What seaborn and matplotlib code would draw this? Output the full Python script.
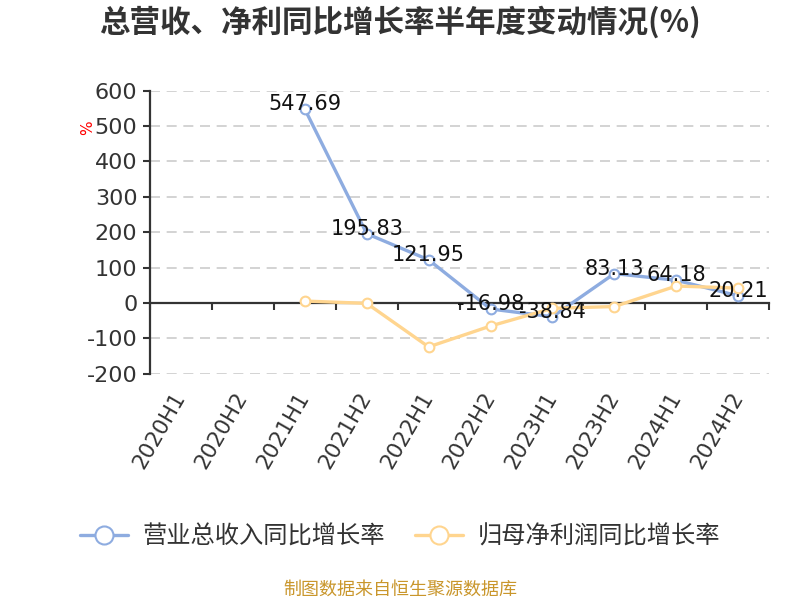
import numpy as np
import pandas as pd
import matplotlib
matplotlib.use("Agg")
import matplotlib.pyplot as plt
import matplotlib.transforms as mtransforms
import seaborn as sns

periods = ["2020H1", "2020H2", "2021H1", "2021H2", "2022H1",
           "2022H2", "2023H1", "2023H2", "2024H1", "2024H2"]
revenue_growth = [np.nan, np.nan, 547.69, 195.83, 121.95, -16.98, -38.84, 83.13, 64.18, 20.21]
profit_growth = [np.nan, np.nan, 5.5, -1.0, -124.0, -65.0, -15.0, -10.0, 48.0, 42.0]
series_names = ["营业总收入同比增长率", "归母净利润同比增长率"]
colors = ["#8eace0", "#ffd58f"]
y_ticks = [-200, -100, 0, 100, 200, 300, 400, 500, 600]

sns.set_theme(style="white")
plt.rcParams["font.family"] = ["DejaVu Sans", "Noto Sans CJK SC"]
plt.rcParams["axes.unicode_minus"] = False

fig = plt.figure(figsize=(8, 6), dpi=100)
ax = fig.add_axes([0.1875, 0.377, 0.774, 0.472])

pos = np.arange(len(periods))
df = pd.DataFrame({"pos": pos, "rev": revenue_growth, "pro": profit_growth})

for col, name, c in zip(["rev", "pro"], series_names, colors):
    d = df.dropna(subset=[col])
    sns.lineplot(data=d, x="pos", y=col, ax=ax, color=c, linewidth=2.4,
                 marker="o", markersize=7, markerfacecolor="white",
                 markeredgecolor=c, markeredgewidth=1.5, label=name, zorder=3)

# data labels for revenue series
for x, v in zip(pos, revenue_growth):
    if not np.isnan(v):
        ax.annotate(f"{v:.2f}", (x, v), xytext=(0, 3.5), textcoords="offset points",
                    ha="center", va="center", fontsize=15, color="#111111", zorder=5)

ax.set_xlim(-0.5, len(periods) - 0.5)
ax.set_ylim(-200, 600)
ax.set_yticks(y_ticks)
ax.set_yticklabels([str(t) for t in y_ticks], fontsize=16, color="#333333")
ax.set_xlabel("")
ax.set_ylabel("")

# grid
for t in y_ticks:
    if t != 0:
        ax.axhline(t, color="#cccccc", linewidth=1.2, linestyle=(0, (6, 4)), zorder=1)

for s in ["top", "right"]:
    ax.spines[s].set_visible(False)
ax.spines["left"].set_color("#333333")
ax.spines["left"].set_linewidth(1.6)
ax.spines["bottom"].set_position(("data", 0))
ax.spines["bottom"].set_color("#333333")
ax.spines["bottom"].set_linewidth(1.6)
ax.spines["bottom"].set_zorder(2)

ax.set_xticks(np.arange(-0.5, len(periods), 1.0))
ax.set_xticklabels([])
ax.tick_params(axis="x", direction="out", length=5, width=1.5, color="#333333", bottom=True)
ax.tick_params(axis="y", direction="out", length=5, width=1.5, color="#333333", left=True, pad=4)

trans = mtransforms.blended_transform_factory(ax.transData, ax.transAxes)
for x, lab in zip(pos, periods):
    ax.text(x + 0.0, -0.07, lab, transform=trans, rotation=60, ha="right", va="center",
            rotation_mode="anchor", fontsize=15.5, color="#333333")

ax.text(-0.1, 0.87, "%", transform=ax.transAxes, rotation=90, color="red",
        fontsize=11, ha="center", va="center")

ax.legend_.remove()
handles, labels = ax.get_legend_handles_labels()
leg = fig.legend(handles[:2], labels[:2], loc="center", bbox_to_anchor=(0.5, 0.105), ncol=2,
                 frameon=False, handlelength=2.0, columnspacing=1.2,
                 handletextpad=0.6, prop={"family": ["Noto Sans CJK SC"], "size": 17.5})
for h in leg.legend_handles:
    h.set_markersize(13)
    h.set_markeredgewidth(1.5)
for t in leg.get_texts():
    t.set_color("#333333")

fig.text(0.5, 0.963, "总营收、净利同比增长率半年度变动情况(%)", ha="center", va="center",
         fontsize=22, fontweight="bold", color="#333333",
         family=["Noto Sans CJK SC", "DejaVu Sans"])
fig.text(0.5, 0.018, "制图数据来自恒生聚源数据库", ha="center", va="center",
         fontsize=13, color="#c9962b", family=["Noto Sans CJK SC"])

fig.savefig("out.png", dpi=100)
